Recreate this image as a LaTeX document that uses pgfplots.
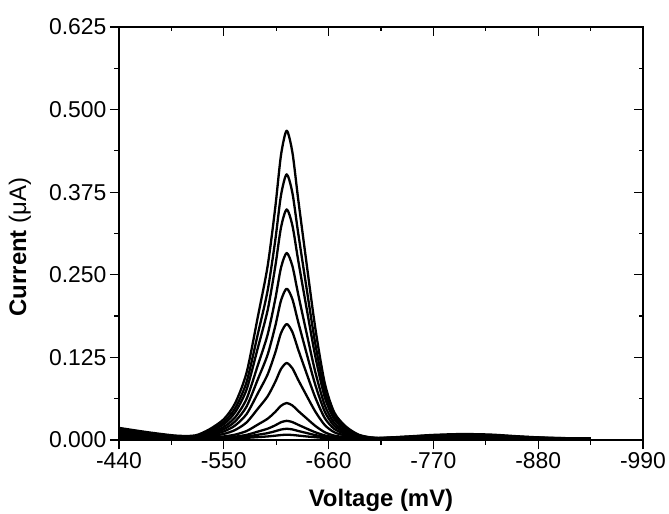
\documentclass[border=0pt]{standalone}
\usepackage{fontspec}
\setmainfont{Liberation Sans}
\usepackage{pgfplots}
\usepackage{pgfplotstable}
\pgfplotsset{compat=1.18}

% voltammograms, one column per concentration (current in uA)
\pgfplotstableread{
V    c1     c2     c3     c4     c5     c6     c7     c8     c9     c10    c11
-440 0.0183 0.0160 0.0141 0.0118 0.0099 0.0081 0.0060 0.0039 0.0029 0.0025 0.0022
-470 0.0118 0.0104 0.0093 0.0079 0.0068 0.0056 0.0044 0.0031 0.0026 0.0023 0.0021
-500 0.0066 0.0059 0.0054 0.0048 0.0042 0.0037 0.0031 0.0025 0.0023 0.0021 0.0021
-520 0.0069 0.0062 0.0057 0.0050 0.0044 0.0038 0.0032 0.0026 0.0023 0.0022 0.0021
-535 0.0162 0.0142 0.0126 0.0106 0.0089 0.0073 0.0055 0.0036 0.0028 0.0025 0.0022
-550 0.0315 0.0273 0.0239 0.0198 0.0163 0.0130 0.0092 0.0054 0.0037 0.0029 0.0024
-562 0.0559 0.0483 0.0421 0.0345 0.0283 0.0221 0.0152 0.0082 0.0051 0.0037 0.0027
-574 0.1024 0.0882 0.0767 0.0625 0.0509 0.0394 0.0267 0.0136 0.0078 0.0052 0.0033
-586 0.1884 0.1620 0.1408 0.1144 0.0928 0.0714 0.0478 0.0236 0.0128 0.0080 0.0044
-596 0.2630 0.2260 0.1963 0.1594 0.1291 0.0992 0.0661 0.0322 0.0171 0.0104 0.0054
-604 0.3515 0.3020 0.2623 0.2128 0.1722 0.1321 0.0879 0.0425 0.0222 0.0133 0.0065
-610 0.4307 0.3700 0.3212 0.2605 0.2108 0.1616 0.1073 0.0517 0.0268 0.0158 0.0075
-616 0.4680 0.4020 0.3490 0.2830 0.2290 0.1755 0.1165 0.0560 0.0290 0.0170 0.0080
-622 0.4354 0.3740 0.3247 0.2633 0.2131 0.1634 0.1085 0.0522 0.0271 0.0160 0.0076
-628 0.3655 0.3140 0.2727 0.2212 0.1791 0.1373 0.0913 0.0441 0.0231 0.0137 0.0067
-636 0.2769 0.2380 0.2067 0.1678 0.1359 0.1044 0.0696 0.0339 0.0179 0.0109 0.0055
-646 0.1698 0.1460 0.1269 0.1032 0.0837 0.0645 0.0432 0.0214 0.0117 0.0074 0.0042
-656 0.0859 0.0740 0.0645 0.0526 0.0429 0.0332 0.0226 0.0117 0.0069 0.0047 0.0031
-666 0.0416 0.0360 0.0315 0.0259 0.0213 0.0167 0.0117 0.0066 0.0043 0.0033 0.0025
-678 0.0206 0.0180 0.0159 0.0132 0.0111 0.0089 0.0066 0.0042 0.0031 0.0026 0.0022
-692 0.0078 0.0070 0.0063 0.0055 0.0048 0.0042 0.0034 0.0027 0.0023 0.0022 0.0021
-710 0.0032 0.0030 0.0029 0.0027 0.0026 0.0024 0.0023 0.0021 0.0021 0.0020 0.0020
-740 0.0051 0.0047 0.0043 0.0039 0.0035 0.0032 0.0028 0.0024 0.0022 0.0021 0.0020
-770 0.0077 0.0069 0.0063 0.0055 0.0048 0.0041 0.0034 0.0027 0.0023 0.0022 0.0021
-800 0.0090 0.0080 0.0072 0.0062 0.0054 0.0046 0.0037 0.0028 0.0024 0.0022 0.0021
-830 0.0082 0.0073 0.0066 0.0057 0.0050 0.0043 0.0035 0.0027 0.0024 0.0022 0.0021
-860 0.0055 0.0050 0.0046 0.0041 0.0037 0.0033 0.0029 0.0024 0.0022 0.0021 0.0020
-890 0.0034 0.0032 0.0030 0.0028 0.0027 0.0025 0.0023 0.0022 0.0021 0.0020 0.0020
-935 0.0021 0.0021 0.0021 0.0021 0.0021 0.0020 0.0020 0.0020 0.0020 0.0020 0.0020
}\voltdata

\pgfplotsset{
  vbase/.style={
    scale only axis, width=524bp, height=413bp,
    at={(119bp,74bp)}, anchor=south west,
    x dir=reverse, xmin=-990, xmax=-440, ymin=0, ymax=0.625,
    xtick={-990,-880,-770,-660,-550,-440},
    ytick={0,0.125,0.25,0.375,0.5,0.625},
    minor x tick num=1, minor y tick num=1,
    major tick length=9bp, minor tick length=4.5bp,
    axis line style={line width=1.2bp},
    every tick/.style={black, line width=1.2bp},
  },
}

\begin{document}
\begin{tikzpicture}
\path[use as bounding box] (0,0) rectangle (669bp,514bp);
\begin{axis}[vbase,
  tick align=outside, xtick pos=bottom, ytick pos=left,
  ticklabel style={font=\fontsize{23}{27}\selectfont},
  /pgf/number format/assume math mode=true,
  yticklabel style={/pgf/number format/.cd, fixed, fixed zerofill, precision=3},
  xlabel={\textbf{Voltage (mV)}},
  ylabel={\textbf{Current} (μA)},
  label style={font=\fontsize{24}{28}\selectfont},
  xlabel style={at={(rel axis cs:0.5,0)}, anchor=center, yshift=-60bp},
  ylabel style={at={(rel axis cs:0,0.467)}, anchor=center, yshift=99bp},
]
\pgfplotsinvokeforeach{1,...,11}{
  \addplot[black, line width=2.3bp, line join=round, smooth, tension=0.45, forget plot]
    table[x=V, y=c#1] {\voltdata};
}
\end{axis}
\begin{axis}[vbase,
  tick align=inside, xtick pos=top, ytick pos=right,
  xticklabels={}, yticklabels={},
]
\end{axis}
\end{tikzpicture}
\end{document}
